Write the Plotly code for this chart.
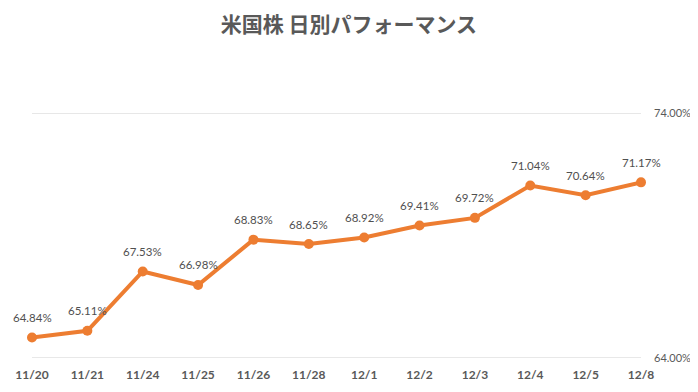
import plotly.graph_objects as go

dates = ["11/20", "11/21", "11/24", "11/25", "11/26", "11/28", "12/1", "12/2", "12/3", "12/4", "12/5", "12/8"]
values = [64.84, 65.11, 67.53, 66.98, 68.83, 68.65, 68.92, 69.41, 69.72, 71.04, 70.64, 71.17]
y_ticks = [64, 74]
title = "米国株 日別パフォーマンス"

num_font = "Lato, Liberation Sans, sans-serif"

fig = go.Figure()
fig.add_trace(go.Scatter(
    x=list(range(len(dates))), y=values,
    mode="lines+markers",
    line=dict(color="#ED7D31", width=4),
    marker=dict(color="#ED7D31", size=10),
    cliponaxis=False,
    hoverinfo="skip",
))

for i, v in enumerate(values):
    fig.add_annotation(x=i, y=v, text=f"{v:.2f}%", showarrow=False,
                       yshift=20, xanchor="center", yanchor="middle",
                       font=dict(family=num_font, size=11.5, color="#505050"))

for t in y_ticks:
    fig.add_shape(type="line", xref="paper", x0=0, x1=1, yref="y", y0=t, y1=t,
                  line=dict(color="#D0D0D0", width=1), layer="below")

fig.update_layout(
    width=690, height=384,
    margin=dict(l=24, r=57, t=105, b=34),
    paper_bgcolor="white", plot_bgcolor="white",
    showlegend=False,
    title=dict(text=title, x=0.494, xanchor="center", y=0.956, yanchor="middle",
               font=dict(family="Noto Sans CJK JP", size=21, color="#595959", weight="bold")),
    xaxis=dict(
        range=[0, len(dates) - 1], automargin=False,
        tickmode="array", tickvals=list(range(len(dates))), ticktext=dates,
        showgrid=False, zeroline=False, showline=False, ticks="",
        tickfont=dict(family=num_font, size=12, color="#595959", weight="bold"),
        ticklabelstandoff=8,
    ),
    yaxis=dict(
        side="right", range=[64, 74], automargin=False,
        tickmode="array", tickvals=y_ticks,
        ticktext=[f"{t:.2f}%" for t in y_ticks],
        showgrid=False, zeroline=False, showline=False, ticks="",
        tickfont=dict(family=num_font, size=11, color="#595959"),
        ticklabelstandoff=12,
    ),
)

fig.write_html("out.html")
